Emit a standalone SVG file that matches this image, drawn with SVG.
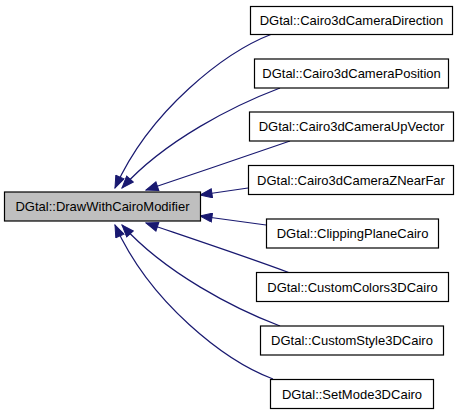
<svg xmlns="http://www.w3.org/2000/svg" width="461" height="413" viewBox="0 0 461 413">
<style>
.node rect{fill:#ffffff;stroke:#000000;stroke-width:1.2}
.main rect{fill:#bfbfbf;stroke:#000000;stroke-width:1.2}
text{font-family:"Liberation Sans",Arial,sans-serif;font-size:13px;fill:#000000;text-anchor:middle}
.edges path{fill:none;stroke:#191970;stroke-width:1.2}
</style>
<defs>
<marker id="ah" markerUnits="userSpaceOnUse" markerWidth="14" markerHeight="10" refX="13" refY="5" orient="auto">
<path d="M1,0.5 L13,5 L1,9.5 z" fill="#191970" stroke="#191970"/>
</marker>
</defs>
<rect width="461" height="413" fill="#ffffff"/>
<g class="edges" id="edges">
<path d="M272,34 C225,52 150,110 115,188" marker-end="url(#ah)"/>
<path d="M280,88 C235,105 165,140 122,188" marker-end="url(#ah)"/>
<path d="M290,141 C250,155 190,175 146,190" marker-end="url(#ah)"/>
<path d="M248,188 L200,195" marker-end="url(#ah)"/>
<path d="M266,225 L200,216" marker-end="url(#ah)"/>
<path d="M290,273 C250,258 190,238 146,223" marker-end="url(#ah)"/>
<path d="M280,326 C235,309 165,273 122,225" marker-end="url(#ah)"/>
<path d="M273,379 C225,361 150,303 115,225" marker-end="url(#ah)"/>
</g>
<g class="main" id="node-DrawWithCairoModifier">
<rect x="4.5" y="192" width="196" height="29"/>
<text x="102.5" y="211">DGtal::DrawWithCairoModifier</text>
</g>
<g class="node" id="node-Cairo3dCameraDirection">
<rect x="250.5" y="6.5" width="202" height="28"/>
<text x="351.5" y="25">DGtal::Cairo3dCameraDirection</text>
</g>
<g class="node" id="node-Cairo3dCameraPosition">
<rect x="254.5" y="59" width="194" height="29"/>
<text x="351.5" y="78">DGtal::Cairo3dCameraPosition</text>
</g>
<g class="node" id="node-Cairo3dCameraUpVector">
<rect x="249.5" y="112" width="204" height="29"/>
<text x="351.5" y="131">DGtal::Cairo3dCameraUpVector</text>
</g>
<g class="node" id="node-Cairo3dCameraZNearFar">
<rect x="248.5" y="165.5" width="205" height="29"/>
<text x="351" y="184.5">DGtal::Cairo3dCameraZNearFar</text>
</g>
<g class="node" id="node-ClippingPlaneCairo">
<rect x="266.5" y="219" width="172" height="29"/>
<text x="352.5" y="238">DGtal::ClippingPlaneCairo</text>
</g>
<g class="node" id="node-CustomColors3DCairo">
<rect x="256.5" y="272.5" width="192" height="29"/>
<text x="352.5" y="291.5">DGtal::CustomColors3DCairo</text>
</g>
<g class="node" id="node-CustomStyle3DCairo">
<rect x="260.5" y="326" width="183" height="29"/>
<text x="352" y="345">DGtal::CustomStyle3DCairo</text>
</g>
<g class="node" id="node-SetMode3DCairo">
<rect x="270.5" y="379.5" width="163" height="29"/>
<text x="352" y="398.5">DGtal::SetMode3DCairo</text>
</g>
</svg>
